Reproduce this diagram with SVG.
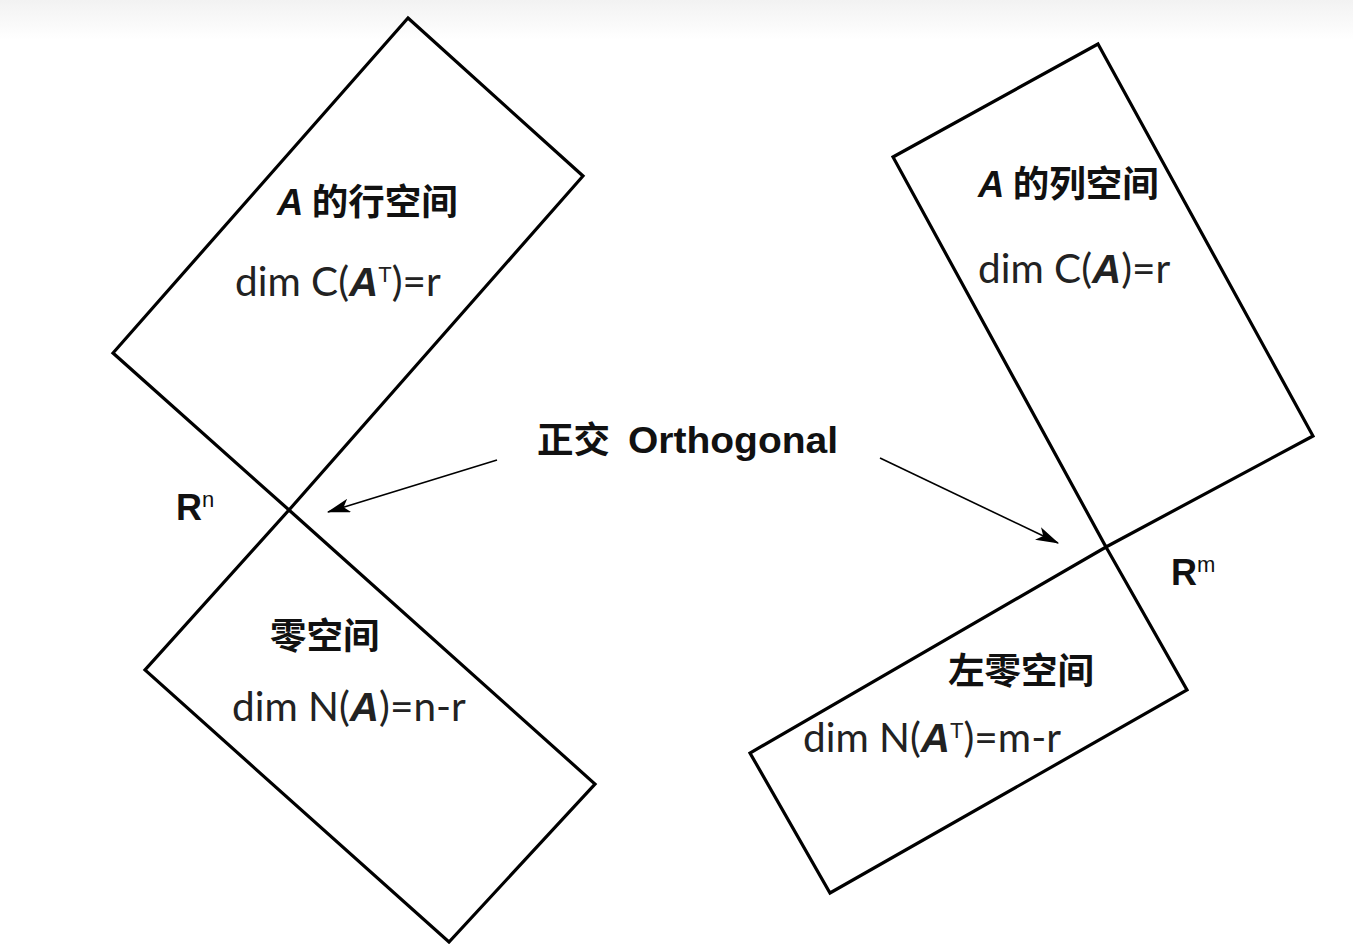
<svg xmlns="http://www.w3.org/2000/svg" width="1353" height="944" viewBox="0 0 1353 944">
<defs>
<linearGradient id="topband" x1="0" y1="0" x2="0" y2="1">
<stop offset="0" stop-color="#f2f2f2"/>
<stop offset="1" stop-color="#ffffff"/>
</linearGradient>
<marker id="ah" viewBox="0 0 20 12" refX="19" refY="6" markerWidth="24" markerHeight="14" orient="auto" markerUnits="userSpaceOnUse">
<path d="M0,0 L20,6 L0,12 L5,6 Z" fill="#000"/>
</marker>
</defs>
<style>
.box{fill:none;stroke:#000;stroke-width:3.2;stroke-linejoin:miter}
.con{fill:none;stroke:#000;stroke-width:1.6}
.title{font-family:"Noto Sans CJK SC","Liberation Sans",sans-serif;font-weight:bold;font-size:36.5px;fill:#111}
.ai{font-family:"Liberation Sans",sans-serif;font-weight:bold;font-style:italic}
.dim{font-family:"Lato","Open Sans",sans-serif;font-size:40.5px;fill:#222}
.lbl{font-family:"Liberation Sans",sans-serif;font-weight:bold;font-size:36px;fill:#111}
.sup{font-family:"Liberation Sans",sans-serif;font-weight:normal;font-size:22px}
</style>
<rect x="0" y="0" width="1353" height="40" fill="url(#topband)"/>
<rect x="0" y="40" width="1353" height="904" fill="#fff"/>

<g id="row-space">
<polygon class="box" points="408,18 583,176 289,510 113,353"/>
<text class="title" x="277" y="215"><tspan class="ai">A</tspan> 的行空间</text>
<text class="dim" x="235" y="296">dim C(<tspan class="ai">A</tspan><tspan class="sup" dy="-14">T</tspan><tspan dy="14">)=r</tspan></text>
</g>

<g id="null-space">
<polygon class="box" points="289,510 595,784 449,942 145,670"/>
<text class="title" x="270" y="649">零空间</text>
<text class="dim" x="232" y="721">dim N(<tspan class="ai">A</tspan>)=n-r</text>
</g>

<g id="col-space">
<polygon class="box" points="1098,44 1313,436 1106,547 893,157"/>
<text class="title" x="978" y="197"><tspan class="ai">A</tspan> 的列空间</text>
<text class="dim" x="978" y="283">dim C(<tspan class="ai">A</tspan>)=r</text>
</g>

<g id="left-null-space">
<polygon class="box" points="1106,547 1187,690 830,893 750,753"/>
<text class="title" x="948" y="684">左零空间</text>
<text class="dim" x="803" y="752">dim N(<tspan class="ai">A</tspan><tspan class="sup" dy="-14">T</tspan><tspan dy="14">)=m-r</tspan></text>
</g>

<g id="orthogonal">
<text class="lbl" x="537" y="453"><tspan font-family="Noto Sans CJK SC, sans-serif" font-size="36.5">正交</tspan></text>
<text class="lbl" x="628" y="453" font-size="39" textLength="210" lengthAdjust="spacingAndGlyphs">Orthogonal</text>
</g>

<g id="Rn">
<text class="lbl" x="176" y="520">R<tspan class="sup" dy="-13">n</tspan></text>
</g>

<g id="Rm">
<text class="lbl" x="1171" y="585">R<tspan class="sup" dy="-13">m</tspan></text>
</g>

<g id="connectors">
<line class="con" x1="497" y1="460" x2="328" y2="512" marker-end="url(#ah)"/>
<line class="con" x1="880" y1="458" x2="1058" y2="543" marker-end="url(#ah)"/>
</g>
</svg>
